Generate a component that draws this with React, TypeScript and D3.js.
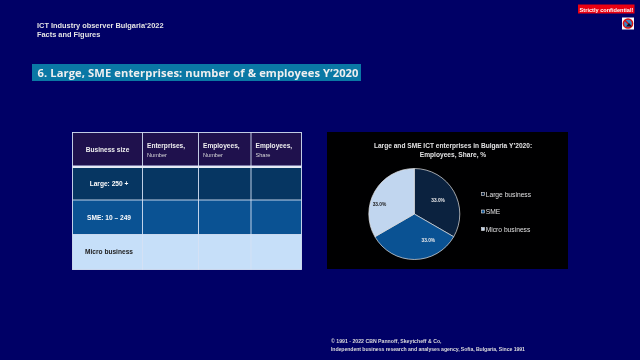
import React from "react";
import * as d3 from "d3";

const title = "6. Large, SME enterprises: number of & employees Y’2020";
const headerLines = ["ICT Industry observer Bulgaria‘2022", "Facts and Figures"];
const footerLines = ["© 1991 - 2022 CBN  Pannoff, Skeytcheff & Co,", "Independent  business research and analyses agency, Sofia, Bulgaria, Since 1991"];
const columns = [
  { a: "Enterprises,", b: "Number" },
  { a: "Employees,", b: "Number" },
  { a: "Employees,", b: "Share" },
];
const rowLabels = ["Large: 250 +", "SME: 10 – 249", "Micro business"];
const rowFills = ["#073763", "#0b5394", "#c9e2fb"];
const rowText = ["#ffffff", "#ffffff", "#222222"];
const pieNames = ["Large business", "SME", "Micro business"];
const pieValues = [33.3, 33.3, 33.3];
const pieLabels = ["33.0%", "33.0%", "33.0%"];
const pieFills = ["#0c233f", "#0b5394", "#c4d9f1"];

const labelNudge = [[-3, 2], [14, -4], [-8, 6]];
const colX = [72.5, 142.5, 198.5, 251, 301.5];
const rowY = [132.5, 165.5, 168, 200, 234.5, 269.5];
const sans = "Liberation Sans, Arial, sans-serif";

export default function App() {
  const cx = 414.3, cy = 214, r = 45.5;
  const arcs = d3.pie<number>().sort(null)(pieValues);
  const arc = d3.arc<d3.PieArcDatum<number>>().innerRadius(0).outerRadius(r);
  const labelArc = d3.arc<d3.PieArcDatum<number>>().innerRadius(r * 0.68).outerRadius(r * 0.68);
  return (
    <svg width={640} height={360} style={{ position: "fixed", left: 0, top: 0, display: "block" }} fontFamily={sans}>
      <rect width={640} height={360} fill="#000066" />
      <g opacity={0.99}>
        <g fill="#e6e6e6" fontSize={7.4} fontWeight="bold">
          {headerLines.map((t, i) => (
            <text key={i} x={37} y={27.5 + i * 9}>{t}</text>
          ))}
        </g>
        <rect x={32} y={64} width={329} height={17} fill="#0b7aa6" />
        <text x={37.5} y={77} fill="#f2f2f2" fontSize={11.2} fontWeight="bold" fontFamily="Open Sans, sans-serif" textLength={321}>{title}</text>
        <rect x={578} y={4.5} width={56.5} height={9} fill="#ee0011" />
        <text x={606.5} y={11.5} fill="#ffffff" fontSize={5.6} fontWeight="bold" textAnchor="middle">Strictly confidential!</text>
        <rect x={622} y={17.5} width={12} height={12} fill="#ffffff" />
        <circle cx={628} cy={23.5} r={4.6} fill="#3a88c8" stroke="#dd1111" strokeWidth={1.5} />
        <path d="M624.8 20.3L631.2 26.7" stroke="#dd1111" strokeWidth={1.4} />
        <path d="M626 26.5L629 23L632 26.5Z" fill="#111122" />

        {/* table */}
        <rect x={colX[0]} y={rowY[0]} width={colX[4] - colX[0]} height={rowY[1] - rowY[0]} fill="#20124d" />
        {rowFills.map((f, i) => (
          <rect key={i} x={colX[0]} y={rowY[i + 2]} width={colX[4] - colX[0]} height={rowY[i + 3] - rowY[i + 2]} fill={f} />
        ))}
        <g stroke="#d8e4f6" strokeWidth={0.9} fill="none">
          <rect x={colX[0]} y={rowY[0]} width={colX[4] - colX[0]} height={rowY[5] - rowY[0]} />
          {colX.slice(1, 4).map((x, i) => (
            <line key={i} x1={x} x2={x} y1={rowY[0]} y2={rowY[5]} />
          ))}
          {rowY.slice(3, 5).map((y, i) => (
            <line key={i} x1={colX[0]} x2={colX[4]} y1={y} y2={y} />
          ))}
        </g>
        <rect x={colX[0]} y={rowY[1]} width={colX[4] - colX[0]} height={rowY[2] - rowY[1]} fill="#e8eef8" />
        <text x={107.5} y={151.5} textAnchor="middle" fill="#f2f2f2" fontSize={6.6} fontWeight="bold">Business size</text>
        {columns.map((c, i) => (
          <g key={i}>
            <text x={colX[i + 1] + 4.5} y={148} fill="#f2f2f2" fontSize={6.6} fontWeight="bold">{c.a}</text>
            <text x={colX[i + 1] + 4.5} y={156.5} fill="#dddddd" fontSize={5.6}>{c.b}</text>
          </g>
        ))}
        {rowLabels.map((t, i) => (
          <text key={i} x={109} y={(rowY[i + 2] + rowY[i + 3]) / 2 + 2.4} textAnchor="middle" fill={rowText[i]} fontSize={6.6} fontWeight="bold">{t}</text>
        ))}

        {/* pie panel */}
        <rect x={327} y={132} width={241} height={137} fill="#000000" />
        <g fill="#e6e6e6" fontSize={6.6} fontWeight="bold" textAnchor="middle">
          <text x={453} y={148}>Large and SME ICT enterprises in Bulgaria Y’2020:</text>
          <text x={453} y={156.5}>Employees,  Share, %</text>
        </g>
        <g transform={`translate(${cx},${cy})`}>
          {arcs.map((a, i) => (
            <path key={i} d={arc(a) || ""} fill={pieFills[i]} stroke="#e6e6e6" strokeWidth={0.7} />
          ))}
          {arcs.map((a, i) => {
            const [x, y] = labelArc.centroid(a);
            return (
              <text key={i} x={x + labelNudge[i][0]} y={y + 1.5 + labelNudge[i][1]} textAnchor="middle" fontSize={4.8} fontWeight="bold" fill={i === 2 ? "#222222" : "#eeeeee"}>{pieLabels[i]}</text>
            );
          })}
        </g>
        {pieNames.map((t, i) => {
          const y = 194.5 + i * 17.5;
          return (
            <g key={t}>
              <rect x={481.5} y={y - 2} width={3} height={3} fill={pieFills[i]} stroke="#e6e6e6" strokeWidth={0.6} />
              <text x={485.7} y={y + 2.2} fill="#e0e0e0" fontSize={6.7}>{t}</text>
            </g>
          );
        })}
        <g fill="#dddddd" fontSize={5.2} fontWeight="bold">
          <text x={331} y={343}>{footerLines[0]}</text>
          <text x={331} y={350.5} textLength={194}>{footerLines[1]}</text>
        </g>
      </g>
    </svg>
  );
}
